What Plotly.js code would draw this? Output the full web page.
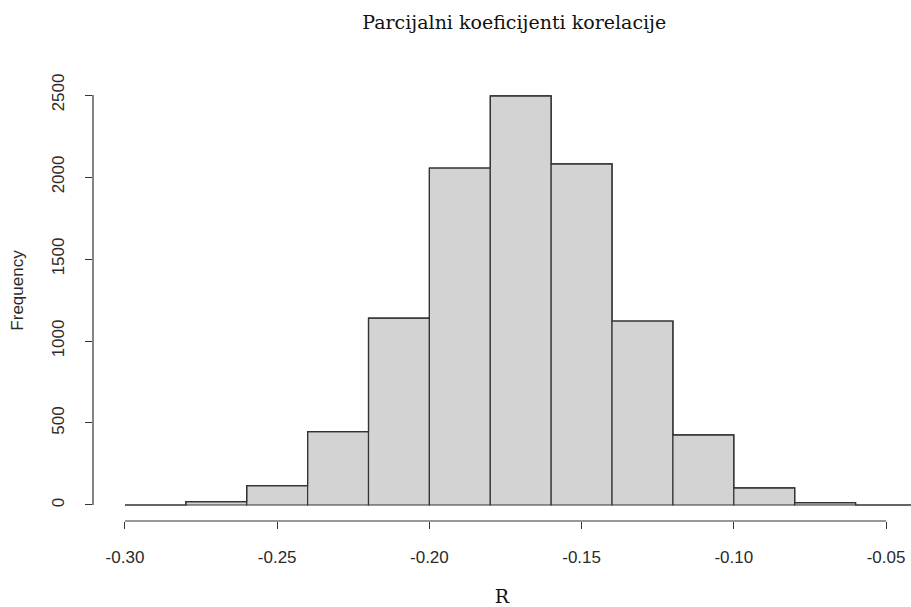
<!DOCTYPE html>
<html>
<head>
<meta charset="utf-8">
<script src="https://cdn.plot.ly/plotly-3.0.1.min.js"></script>
<style>html,body{margin:0;padding:0;background:#fff}#chart{width:911px;height:607px}</style>
</head>
<body>
<div id="chart"></div>
<script>
// Bin edges (left edge of each bin), width 0.02
var binStarts = [-0.30, -0.28, -0.26, -0.24, -0.22, -0.20, -0.18, -0.16, -0.14, -0.12, -0.10, -0.08, -0.06];
var binWidth = 0.02;
var counts = [0, 20, 118, 447, 1140, 2055, 2495, 2080, 1122, 427, 104, 14, 0];
var xTicks = [-0.30, -0.25, -0.20, -0.15, -0.10, -0.05];
var xTickLabels = ["-0.30", "-0.25", "-0.20", "-0.15", "-0.10", "-0.05"];
var yTicks = [0, 500, 1000, 1500, 2000, 2500];
var yTickLabels = ["0", "500", "1000", "1500", "2000", "2500"];

var centers = binStarts.map(function (s) { return s + binWidth / 2; });
var edges = binStarts.concat([binStarts[binStarts.length - 1] + binWidth]);
var stepY = counts.concat([counts[counts.length - 1]]);

var bars = {
  type: 'bar',
  x: centers,
  y: counts,
  width: binWidth,
  marker: { color: '#d3d3d3', line: { color: '#333333', width: 1.2 } },
  hoverinfo: 'x+y',
  showlegend: false
};
var outline = {
  type: 'scatter',
  mode: 'lines',
  x: edges,
  y: stepY,
  line: { shape: 'hv', color: '#333333', width: 1.2 },
  hoverinfo: 'skip',
  showlegend: false
};

var axisFont = { family: 'Liberation Sans, Arial, sans-serif', size: 17, color: '#2a2a2a' };
var serifFont = { family: 'DejaVu Serif, Liberation Serif, serif', size: 19, color: '#111' };

var layout = {
  width: 911,
  height: 607,
  margin: { l: 93, r: 0, t: 60, b: 86 },
  paper_bgcolor: '#fff',
  plot_bgcolor: '#fff',
  bargap: 0,
  title: {
    text: 'Parcijalni koeficijenti korelacije',
    font: serifFont,
    x: 0.515, xanchor: 'center', xref: 'paper',
    y: 0.963, yanchor: 'middle', yref: 'container'
  },
  xaxis: {
    range: [-0.3105, -0.0418],
    showgrid: false, zeroline: false, showline: false,
    tickmode: 'array', tickvals: xTicks, ticktext: xTickLabels,
    ticks: 'outside', ticklen: 7, tickwidth: 1, tickcolor: '#333',
    tickfont: axisFont,
    ticklabelstandoff: 14,
    title: { text: 'R', font: serifFont, standoff: 23 },
    fixedrange: true
  },
  yaxis: {
    range: [-97.6, 2713.4],
    showgrid: false, zeroline: false, showline: false,
    tickmode: 'array', tickvals: yTicks, ticktext: yTickLabels,
    ticks: 'outside', ticklen: 7, tickwidth: 1, tickcolor: '#333',
    tickfont: axisFont, tickangle: -90,
    ticklabelstandoff: 14,
    title: { text: 'Frequency', font: axisFont, standoff: 21 },
    fixedrange: true
  },
  shapes: [
    { type: 'line', xref: 'x', yref: 'paper', x0: xTicks[0], x1: xTicks[xTicks.length - 1], y0: 0, y1: 0, line: { color: '#333', width: 1.2 } },
    { type: 'line', xref: 'paper', yref: 'y', x0: 0, x1: 0, y0: yTicks[0], y1: yTicks[yTicks.length - 1], line: { color: '#333', width: 1.2 } }
  ]
};

Plotly.newPlot('chart', [bars, outline], layout, { displayModeBar: false, staticPlot: true });
</script>
</body>
</html>
